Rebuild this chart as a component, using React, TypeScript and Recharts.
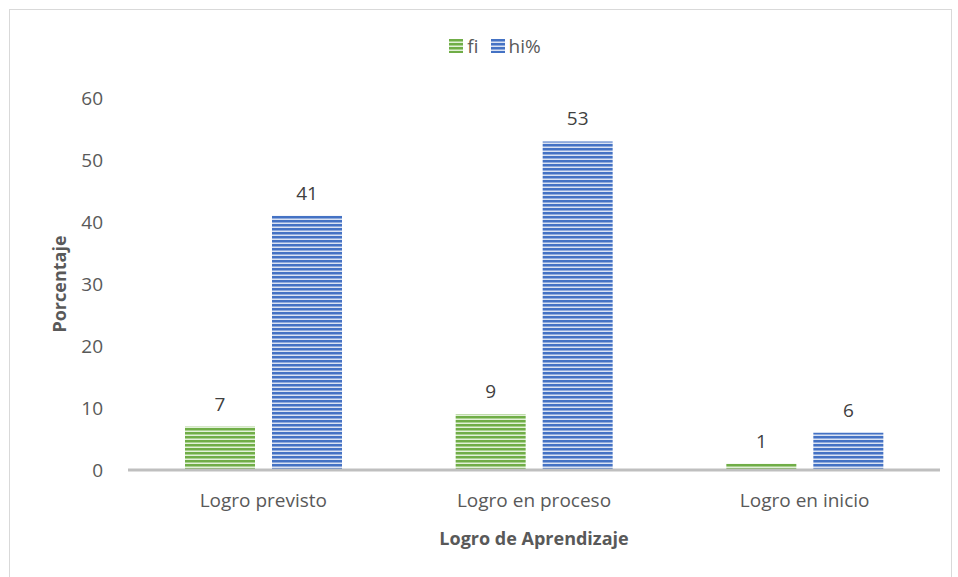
import { BarChart, Bar, XAxis, YAxis, LabelList } from "recharts";

const categories = ["Logro previsto", "Logro en proceso", "Logro en inicio"];
const fiValues = [7, 9, 1];
const hiValues = [41, 53, 6];
const yTicks = [0, 10, 20, 30, 40, 50, 60];

const data = categories.map((name, i) => ({ name, fi: fiValues[i], hi: hiValues[i] }));

const FONT = "'Open Sans', 'Liberation Sans', sans-serif";

const legendItems = [
  { label: "fi", fill: "url(#stripeGreen)" },
  { label: "hi%", fill: "url(#stripeBlue)" },
];

export default function App() {
  return (
    <div style={{ position: "absolute", left: 0, top: 0, width: 958, height: 577, background: "#fff" }}>
      <svg width={0} height={0} style={{ position: "absolute" }}>
        <defs>
          <pattern id="stripeGreen" width={6} height={4} patternUnits="userSpaceOnUse">
            <rect width={6} height={4} fill="#70AD47" />
            <rect y={2} width={6} height={1} fill="#A9D18E" />
            <rect y={3} width={6} height={1} fill="#E2F0D9" />
          </pattern>
          <pattern id="stripeBlue" width={6} height={4} patternUnits="userSpaceOnUse">
            <rect width={6} height={4} fill="#4472C4" />
            <rect y={2} width={6} height={1} fill="#8FAADC" />
            <rect y={3} width={6} height={1} fill="#DAE3F3" />
          </pattern>
        </defs>
      </svg>
      <div style={{ position: "absolute", left: 9, top: 9, width: 941, height: 580, border: "1px solid #D9D9D9" }} />
      <div
        style={{
          position: "absolute",
          left: 16,
          top: 33,
          width: 958,
          display: "flex",
          justifyContent: "center",
          gap: 12,
          fontFamily: FONT,
          fontSize: 19,
          color: "#595959",
        }}
      >
        {legendItems.map((item) => (
          <div key={item.label} style={{ display: "flex", alignItems: "center", gap: 4 }}>
            <svg width={14} height={14}>
              <rect width={14} height={14} fill={item.fill} />
            </svg>
            <span>{item.label}</span>
          </div>
        ))}
      </div>
      <div style={{ position: "absolute", left: 0, top: 0 }}>
        <BarChart
          width={958}
          height={577}
          data={data}
          margin={{ top: 98, right: 18, bottom: 0, left: 0 }}
          barSize={70}
          barGap={17}
        >
          <XAxis
            dataKey="name"
            height={107}
            tickLine={false}
            axisLine={{ stroke: "#BFBFBF", strokeWidth: 3 }}
            tick={{ fill: "#595959", fontSize: 19, fontFamily: FONT }}
            tickMargin={18}
            label={{
              value: "Logro de Aprendizaje",
              position: "insideBottom",
              offset: 32,
              style: { fill: "#595959", fontSize: 18, fontWeight: 700, fontFamily: FONT },
            }}
          />
          <YAxis
            width={128}
            domain={[0, 60]}
            ticks={yTicks}
            axisLine={false}
            tickLine={false}
            tickSize={0}
            tickMargin={25}
            tick={{ fill: "#595959", fontSize: 19, fontFamily: FONT }}
            label={{
              value: "Porcentaje",
              angle: -90,
              position: "insideLeft",
              offset: 60,
              style: { fill: "#595959", fontSize: 18, fontWeight: 700, fontFamily: FONT, textAnchor: "middle" },
            }}
          />
          <Bar dataKey="fi" name="fi" fill="url(#stripeGreen)" isAnimationActive={false}>
            <LabelList dataKey="fi" position="top" offset={16} style={{ fill: "#404040", fontSize: 19, fontFamily: FONT }} />
          </Bar>
          <Bar dataKey="hi" name="hi%" fill="url(#stripeBlue)" isAnimationActive={false}>
            <LabelList dataKey="hi" position="top" offset={16} style={{ fill: "#404040", fontSize: 19, fontFamily: FONT }} />
          </Bar>
        </BarChart>
      </div>
    </div>
  );
}
